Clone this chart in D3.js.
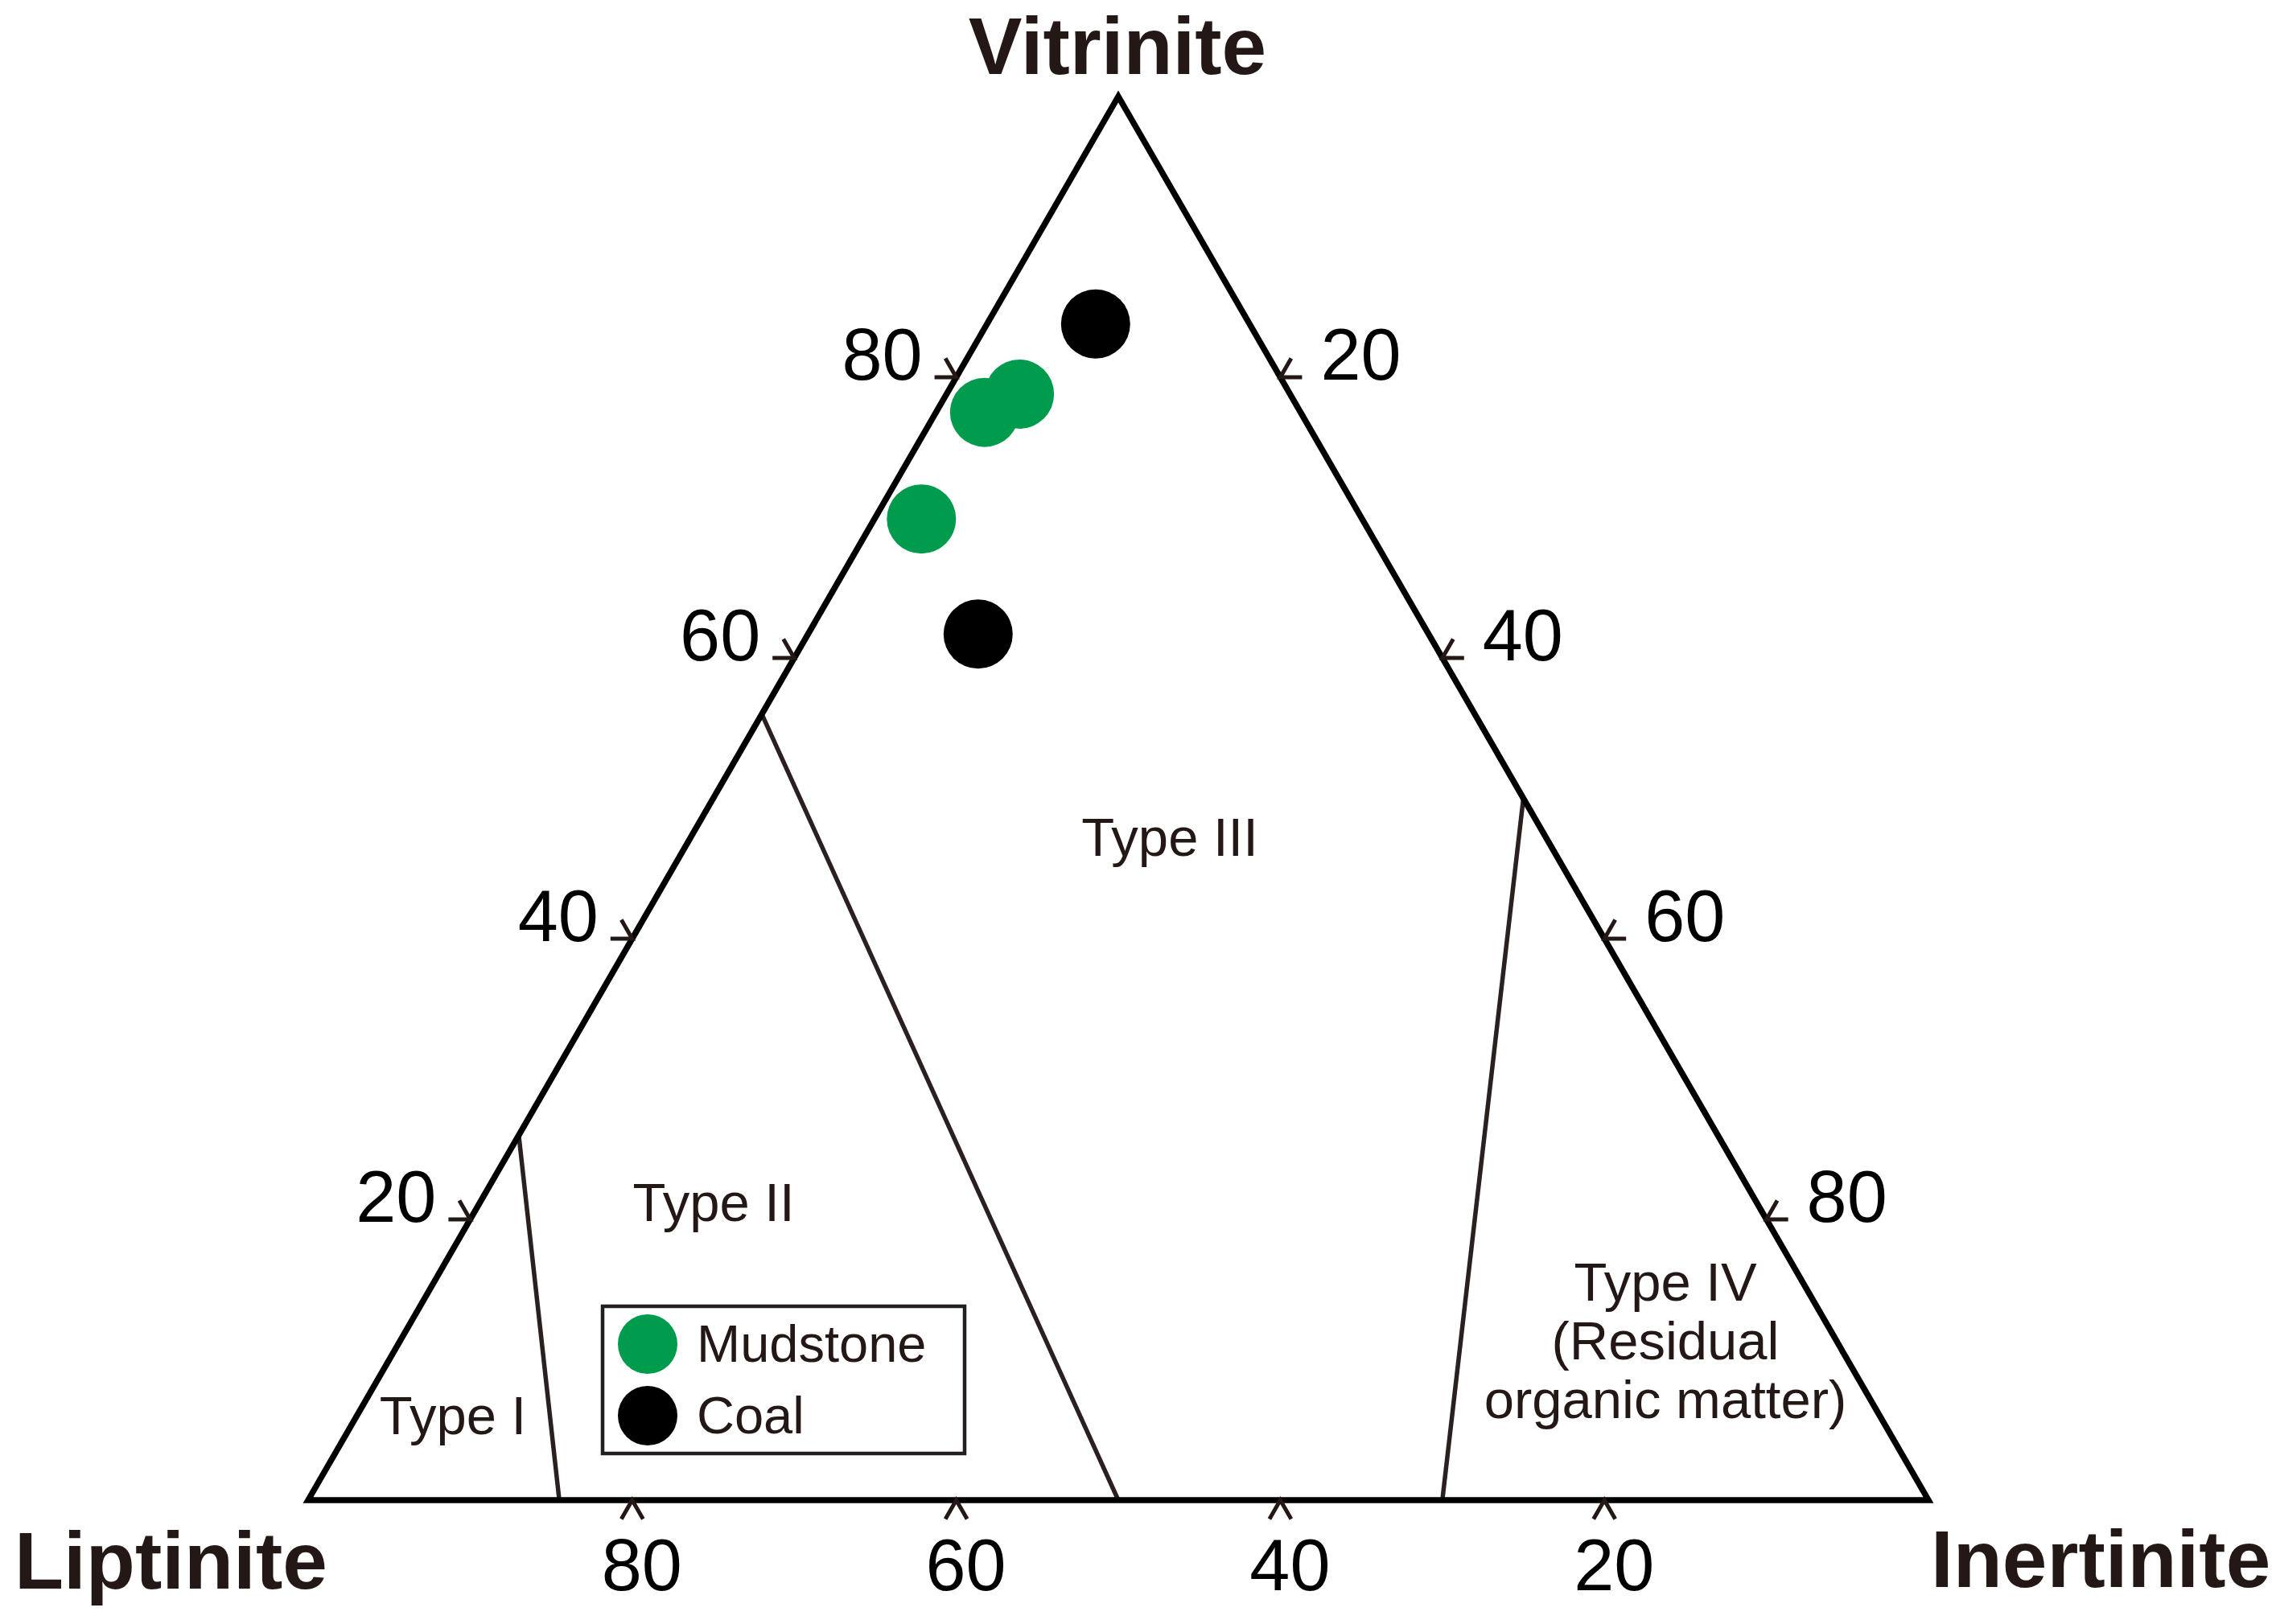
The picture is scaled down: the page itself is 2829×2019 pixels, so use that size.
<!DOCTYPE html>
<html>
<head>
<meta charset="utf-8">
<script src="https://cdn.jsdelivr.net/npm/d3@7"></script>
<style>
  html, body { margin: 0; padding: 0; background: #fff; }
  svg { display: block; font-family: "Liberation Sans", Arial, sans-serif; }
</style>
</head>
<body>
<div id="chart"></div>
<script>
// Ternary data (percent): Liptinite, Vitrinite, Inertinite
const mudstoneL = [16.7, 19.5, 27.2];
const mudstoneV = [78.8, 77.5, 69.9];
const mudstoneI = [4.5, 3.0, 2.9];

const coalL = [9.5, 27.8];
const coalV = [83.8, 61.7];
const coalI = [6.7, 10.5];

const tickValues = [20, 40, 60, 80];

// type boundaries, each as two [L, V, I] ends
const boundaryNames = ["I/II", "II/III", "III/IV"];
const boundaryStart = [[74, 26, 0], [44, 56, 0], [0, 50, 50]];
const boundaryEnd = [[84.5, 0, 15.5], [50, 0, 50], [30, 0, 70]];

const regionNames = ["Type I", "Type II", "Type III"];

const W = 2829, H = 2019;
const ink = "#231815";
const green = "#009b4c";

const svg = d3.select("#chart").append("svg")
    .attr("width", W)
    .attr("height", H);

const s3 = Math.sqrt(3) / 2;
const x = d3.scaleLinear().domain([0, 1]).range([383, 2397]);
const y = d3.scaleLinear().domain([0, s3]).range([1865, 120]);

// [L, V, I] in percent -> screen
function proj(l, v, i) {
    const t = l + v + i;
    const u = (i + v / 2) / t;
    const w = (v / t) * s3;
    return [x(u), y(w)];
}

const line = d3.line();

// boundary lines between kerogen types
svg.append("g").selectAll("path")
    .data(boundaryNames.map((n, k) => [boundaryStart[k], boundaryEnd[k]]))
    .join("path")
    .attr("d", d => line(d.map(p => proj(...p))))
    .attr("fill", "none")
    .attr("stroke", "#2a2020")
    .attr("stroke-width", 5.5);

// triangle outline
svg.append("path")
    .attr("d", line([proj(100, 0, 0), proj(0, 100, 0), proj(0, 0, 100)]) + "Z")
    .attr("fill", "none")
    .attr("stroke", "#000")
    .attr("stroke-width", 7.5)
    .attr("stroke-linejoin", "miter");

// ticks: small chevrons pointing at the edge
function chevron(p, n) {
    const len = 27, a = Math.PI / 6;
    const rot = t => [n[0] * Math.cos(t) - n[1] * Math.sin(t), n[0] * Math.sin(t) + n[1] * Math.cos(t)];
    const d1 = rot(a), d2 = rot(-a);
    return line([[p[0] + d1[0] * len, p[1] + d1[1] * len], p, [p[0] + d2[0] * len, p[1] + d2[1] * len]]);
}

const axisG = svg.append("g");

// left edge: Vitrinite
tickValues.forEach(v => {
    const p = proj(100 - v, v, 0);
    axisG.append("path").attr("d", chevron(p, [-0.866, -0.5]))
        .attr("fill", "none").attr("stroke", ink).attr("stroke-width", 5);
    axisG.append("text")
        .attr("x", p[0] - 42).attr("y", p[1] + 3)
        .attr("text-anchor", "end")
        .attr("font-size", 90)
        .attr("fill", "#000")
        .text(v);
});

// right edge: Inertinite
tickValues.forEach(i => {
    const p = proj(0, 100 - i, i);
    axisG.append("path").attr("d", chevron(p, [0.866, -0.5]))
        .attr("fill", "none").attr("stroke", ink).attr("stroke-width", 5);
    axisG.append("text")
        .attr("x", p[0] + 50).attr("y", p[1] + 3)
        .attr("font-size", 90)
        .attr("fill", "#000")
        .text(i);
});

// bottom edge: Liptinite
tickValues.forEach(l => {
    const p = proj(l, 0, 100 - l);
    axisG.append("path").attr("d", chevron(p, [0, 1]))
        .attr("fill", "none").attr("stroke", ink).attr("stroke-width", 5);
    axisG.append("text")
        .attr("x", p[0] + 12).attr("y", 1977)
        .attr("text-anchor", "middle")
        .attr("font-size", 90)
        .attr("fill", "#000")
        .text(l);
});

// apex labels
const apex = svg.append("g")
    .attr("font-size", 100)
    .attr("font-weight", "bold")
    .attr("fill", ink);
apex.append("text").attr("x", 1389).attr("y", 92).attr("text-anchor", "middle").text("Vitrinite");
apex.append("text").attr("x", 18).attr("y", 1975).text("Liptinite");
apex.append("text").attr("x", 2400).attr("y", 1973).text("Inertinite");

// region labels
const reg = svg.append("g")
    .attr("font-size", 67)
    .attr("fill", ink)
    .attr("text-anchor", "middle");
const regionPos = [[563, 1783], [887, 1518], [1454, 1064]];
regionNames.forEach((n, k) => {
    reg.append("text").attr("x", regionPos[k][0]).attr("y", regionPos[k][1]).text(n);
});
const t4 = reg.append("text").attr("x", 2070).attr("y", 1617);
["Type IV", "(Residual", "organic matter)"].forEach((s, k) => {
    t4.append("tspan").attr("x", 2070).attr("dy", k === 0 ? 0 : 73).text(s);
});

// data points
const mudstone = mudstoneL.map((l, k) => proj(l, mudstoneV[k], mudstoneI[k]));
const coal = coalL.map((l, k) => proj(l, coalV[k], coalI[k]));

svg.append("g").selectAll("circle")
    .data(coal)
    .join("circle")
    .attr("cx", d => d[0]).attr("cy", d => d[1])
    .attr("r", 43)
    .attr("fill", "#000");

svg.append("g").selectAll("circle")
    .data(mudstone)
    .join("circle")
    .attr("cx", d => d[0]).attr("cy", d => d[1])
    .attr("r", 43)
    .attr("fill", green);

// legend
const leg = svg.append("g");
leg.append("rect")
    .attr("x", 749).attr("y", 1624)
    .attr("width", 450).attr("height", 183)
    .attr("fill", "#fff")
    .attr("stroke", "#231f20")
    .attr("stroke-width", 4.5);
[["Mudstone", green, 1671], ["Coal", "#000", 1760]].forEach(([name, col, cy]) => {
    leg.append("circle").attr("cx", 805).attr("cy", cy).attr("r", 37).attr("fill", col);
    leg.append("text")
        .attr("x", 866).attr("y", cy + 22)
        .attr("font-size", 65)
        .attr("fill", ink)
        .text(name);
});
</script>
</body>
</html>
